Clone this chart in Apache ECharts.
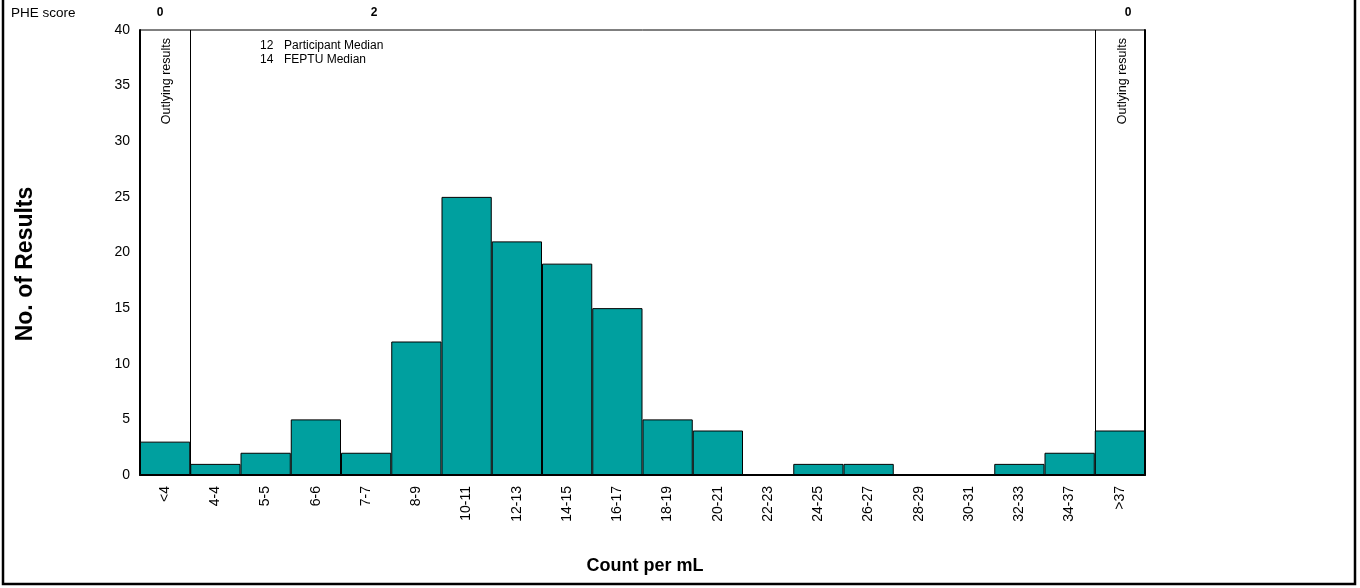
<!DOCTYPE html>
<html>
<head>
<meta charset="utf-8">
<script src="https://cdn.jsdelivr.net/npm/echarts@6/dist/echarts.min.js"></script>
<style>
html,body{margin:0;padding:0;background:#fff;}
#c{width:1360px;height:588px;}
</style>
</head>
<body>
<div id="c"></div>
<script>
const categories = ['<4','4-4','5-5','6-6','7-7','8-9','10-11','12-13','14-15','16-17','18-19','20-21','22-23','24-25','26-27','28-29','30-31','32-33','34-37','>37'];
const counts = [3,1,2,5,2,12,25,21,19,15,5,4,0,1,1,0,0,1,2,4];
const yTicks = [0,5,10,15,20,25,30,35,40];
const pheScores = [{label:'0', x:160}, {label:'2', x:374}, {label:'0', x:1128}];
const medianValues = ['12', '14'];
const medianLabels = ['Participant Median', 'FEPTU Median'];

const FONT = '"Liberation Sans", Arial, sans-serif';
const chart = echarts.init(document.getElementById('c'), null, {renderer:'canvas'});

const graphics = [
  {type:'rect', shape:{x:3, y:-5, width:1352, height:589}, style:{fill:'none', stroke:'#000', lineWidth:2.5}, silent:true},
  {type:'text', x:11, y:13, style:{text:'PHE score', font:'13.5px ' + FONT, fill:'#000', verticalAlign:'middle'}},
  {type:'text', x:167, y:38, rotation:Math.PI/2, style:{text:'Outlying results', font:'12.5px ' + FONT, fill:'#000', align:'right', verticalAlign:'middle'}},
  {type:'text', x:1123, y:38, rotation:Math.PI/2, style:{text:'Outlying results', font:'12.5px ' + FONT, fill:'#000', align:'right', verticalAlign:'middle'}},
  {type:'text', x:26, y:264, rotation:Math.PI/2, style:{text:'No. of Results', font:'bold 23px ' + FONT, fill:'#000', align:'center', verticalAlign:'middle'}},
  {type:'text', x:645, y:566, style:{text:'Count per mL', font:'bold 18px ' + FONT, fill:'#000', align:'center', verticalAlign:'middle'}}
];
pheScores.forEach(p => graphics.push({type:'text', x:p.x, y:13, style:{text:p.label, font:'bold 12px ' + FONT, fill:'#000', align:'center', verticalAlign:'middle'}}));
medianValues.forEach((v,i) => {
  graphics.push({type:'text', x:260, y:46 + i*14, style:{text:v, font:'12px ' + FONT, fill:'#000', verticalAlign:'middle'}});
  graphics.push({type:'text', x:284, y:46 + i*14, style:{text:medianLabels[i], font:'12px ' + FONT, fill:'#000', verticalAlign:'middle'}});
});

chart.setOption({
  animation:false,
  backgroundColor:'#fff',
  grid:{left:140, right:215, top:30, bottom:113, show:true, borderColor:'#000', borderWidth:1},
  xAxis:{
    type:'category', data:categories, boundaryGap:true,
    axisLine:{show:true, lineStyle:{color:'#000', width:2}},
    axisTick:{show:false},
    axisLabel:{rotate:90, color:'#000', fontFamily:FONT, fontSize:14, margin:11, interval:0},
    splitLine:{show:true, interval:function(i){return i===1 || i===19;}, lineStyle:{color:'#000', width:1}}
  },
  yAxis:[{
    type:'value', min:0, max:40, interval:5,
    axisLine:{show:true, lineStyle:{color:'#000', width:2}},
    axisTick:{show:false},
    splitLine:{show:false},
    axisLabel:{color:'#000', fontFamily:FONT, fontSize:14, margin:10}
  },{
    type:'value', min:0, max:40, interval:5, position:'right',
    axisLine:{show:true, lineStyle:{color:'#000', width:2}},
    axisTick:{show:false}, axisLabel:{show:false}, splitLine:{show:false}
  }],
  series:[{
    type:'bar', data:counts, barCategoryGap:'0%',
    itemStyle:{color:'#00A09F', borderColor:'#000', borderWidth:1}
  }],
  graphic:graphics
});
</script>
</body>
</html>
